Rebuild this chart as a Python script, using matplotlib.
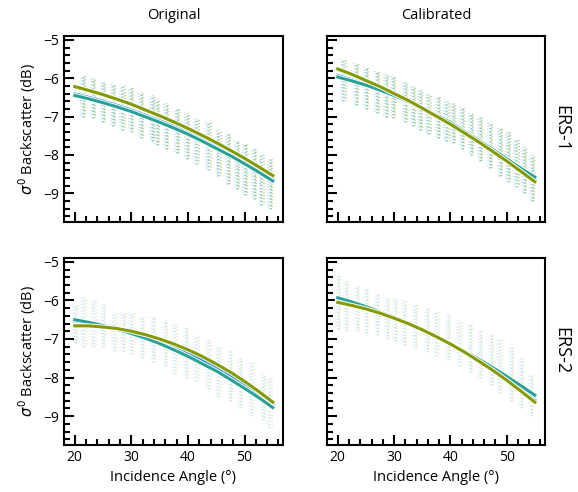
import matplotlib
matplotlib.use("Agg")
import matplotlib.pyplot as plt
import matplotlib.patheffects as pe
from matplotlib.ticker import MultipleLocator

plt.rcParams['font.family'] = ['Open Sans', 'DejaVu Sans']
plt.rcParams['mathtext.fontset'] = 'dejavusans'

BLUE = '#268bd2'
TEAL = '#2aa198'
OLIVE = '#859900'

# fitted curves, every 2.5 degrees
ang = [20, 22.5, 25, 27.5, 30, 32.5, 35, 37.5, 40, 42.5, 45, 47.5, 50, 52.5, 55]

tl_olive = [-6.22, -6.32, -6.43, -6.55, -6.68, -6.83, -6.98, -7.14, -7.31, -7.49, -7.68, -7.88, -8.09, -8.31, -8.54]
tl_blue = [-6.41, -6.50, -6.60, -6.71, -6.83, -6.97, -7.11, -7.26, -7.42, -7.60, -7.78, -7.97, -8.18, -8.39, -8.62]
tl_teal = [-6.45, -6.54, -6.64, -6.75, -6.87, -7.01, -7.15, -7.30, -7.46, -7.64, -7.83, -8.02, -8.23, -8.45, -8.68]

tr_olive = [-5.76, -5.90, -6.06, -6.22, -6.40, -6.58, -6.78, -6.99, -7.20, -7.43, -7.66, -7.91, -8.16, -8.43, -8.70]
tr_blue = [-5.93, -6.04, -6.16, -6.29, -6.44, -6.60, -6.77, -6.96, -7.16, -7.38, -7.62, -7.87, -8.12, -8.38, -8.64]
tr_teal = [-5.97, -6.07, -6.18, -6.31, -6.45, -6.61, -6.77, -6.96, -7.15, -7.39, -7.62, -7.86, -8.10, -8.35, -8.58]

bl_olive = [-6.66, -6.66, -6.69, -6.73, -6.80, -6.89, -7.00, -7.13, -7.28, -7.45, -7.65, -7.86, -8.10, -8.36, -8.64]
bl_blue = [-6.53, -6.57, -6.64, -6.71, -6.81, -6.92, -7.05, -7.20, -7.36, -7.54, -7.74, -7.95, -8.19, -8.43, -8.70]
bl_teal = [-6.50, -6.57, -6.65, -6.75, -6.86, -6.98, -7.12, -7.28, -7.45, -7.64, -7.83, -8.05, -8.28, -8.52, -8.78]

br_olive = [-6.05, -6.13, -6.22, -6.33, -6.46, -6.60, -6.76, -6.94, -7.13, -7.34, -7.57, -7.81, -8.07, -8.35, -8.64]
br_blue = [-5.96, -6.06, -6.17, -6.29, -6.43, -6.59, -6.75, -6.94, -7.13, -7.34, -7.56, -7.80, -8.05, -8.31, -8.59]
br_teal = [-5.93, -6.04, -6.16, -6.30, -6.44, -6.59, -6.76, -6.93, -7.12, -7.32, -7.52, -7.74, -7.97, -8.21, -8.46]

# point clouds per incidence-angle node: angle, upper, lower
tl_sa = [21.4, 23.2, 25.0, 26.8, 28.4, 29.9, 31.7, 33.6, 34.5, 36.1, 38.0,
         39.8, 41.5, 43.6, 45.4, 47.1, 48.6, 50.1, 51.6, 53.0, 54.5]
tl_hi = [-5.95, -6.0, -6.1, -6.15, -6.2, -6.25, -6.35, -6.45, -6.55, -6.65, -6.8,
         -6.9, -7.05, -7.15, -7.35, -7.45, -7.6, -7.7, -7.85, -8.0, -8.1]
tl_lo = [-7.0, -7.05, -7.15, -7.25, -7.35, -7.4, -7.55, -7.65, -7.75, -7.85, -7.95,
         -8.1, -8.25, -8.4, -8.55, -8.75, -8.9, -9.05, -9.15, -9.3, -9.4]

tr_sa = [21.0, 23.2, 25.0, 26.9, 28.5, 29.8, 31.9, 33.4, 34.6, 36.1, 37.8,
         39.3, 40.5, 42.0, 43.7, 45.2, 47.0, 48.8, 50.2, 51.7, 53.1, 54.5]
tr_hi = [-5.5, -5.6, -5.7, -5.8, -5.9, -5.95, -6.1, -6.2, -6.3, -6.4, -6.5,
         -6.6, -6.65, -6.75, -6.9, -7.0, -7.15, -7.3, -7.4, -7.6, -7.8, -8.0]
tr_lo = [-6.6, -6.7, -6.8, -6.9, -7.0, -7.05, -7.15, -7.25, -7.35, -7.45, -7.55,
         -7.65, -7.7, -7.85, -8.0, -8.15, -8.35, -8.55, -8.7, -8.85, -9.0, -9.2]

bl_sa = [20.0, 21.5, 23.3, 25.0, 27.0, 28.5, 30.0, 31.8, 33.8, 35.9, 37.6,
         39.7, 41.5, 43.6, 45.4, 47.4, 49.2, 51.2, 53.2, 54.4]
bl_hi = [-6.1, -5.9, -6.0, -6.1, -6.3, -6.3, -6.3, -6.4, -6.4, -6.5, -6.6,
         -6.7, -6.9, -7.0, -7.2, -7.3, -7.5, -7.6, -7.9, -8.0]
bl_lo = [-7.1, -7.2, -7.2, -7.2, -7.3, -7.3, -7.4, -7.5, -7.6, -7.7, -7.9,
         -8.0, -8.1, -8.3, -8.5, -8.6, -8.8, -9.0, -9.1, -9.3]

br_sa = [20.0, 21.5, 23.4, 25.0, 26.9, 28.7, 30.2, 31.8, 33.7, 35.8, 37.5,
         39.6, 41.6, 43.4, 45.2, 47.2, 48.7, 50.7, 52.5, 54.3]
br_hi = [-5.35, -5.5, -5.6, -5.7, -5.8, -5.9, -5.95, -6.0, -6.1, -6.2, -6.3,
         -6.35, -6.5, -6.6, -6.75, -6.9, -7.0, -7.2, -7.5, -7.9]
br_lo = [-6.75, -6.8, -6.8, -6.85, -6.9, -7.0, -7.05, -7.15, -7.25, -7.35, -7.45,
         -7.55, -7.7, -7.85, -8.0, -8.2, -8.4, -8.6, -8.8, -9.0]

panels = [
    (tl_sa, tl_hi, tl_lo, tl_blue, tl_teal, tl_olive, 0.5),
    (tr_sa, tr_hi, tr_lo, tr_blue, tr_teal, tr_olive, 0.5),
    (bl_sa, bl_hi, bl_lo, bl_blue, bl_teal, bl_olive, 0.22),
    (br_sa, br_hi, br_lo, br_blue, br_teal, br_olive, 0.22),
]

W, H = 578, 492
boxes = [(64, 36, 283, 222), (327, 36, 545, 222),
         (64, 258, 283, 445), (327, 258, 545, 445)]

fig = plt.figure(figsize=(W / 100, H / 100), dpi=100)
axes = []
for (x0, y0, x1, y1) in boxes:
    axes.append(fig.add_axes([x0 / W, 1 - y1 / H, (x1 - x0) / W, (y1 - y0) / H]))

for i, (ax, p) in enumerate(zip(axes, panels)):
    sa, hi, lo, b, t, o, a = p
    ax.vlines(sa, lo, hi, color=TEAL, alpha=a, lw=1.8,
              linestyles=[(0, (0.6, 0.7))], zorder=1)
    ax.vlines([s + 0.4 for s in sa], lo, hi, color=OLIVE, alpha=a * 0.8, lw=1.5,
              linestyles=[(0.4, (0.6, 0.9))], zorder=1)
    ax.vlines([s - 0.35 for s in sa], lo, hi, color=BLUE, alpha=a * 0.6, lw=1.2,
              linestyles=[(0.8, (0.6, 1.1))], zorder=1)
    fx = [pe.Stroke(linewidth=3.6, foreground='white'), pe.Normal()]
    ax.plot(ang, b, color=BLUE, lw=2.2, path_effects=fx, zorder=3)
    ax.plot(ang, t, color=TEAL, lw=2.2, path_effects=fx, zorder=3)
    ax.plot(ang, o, color=OLIVE, lw=2.2, path_effects=fx, zorder=3)

    ax.set_xlim(18.1, 56.8)
    ax.set_ylim(-9.75, -4.9)
    ax.set_xticks([20, 30, 40, 50])
    ax.set_yticks([-9, -8, -7, -6, -5])
    ax.xaxis.set_minor_locator(MultipleLocator(2))
    ax.yaxis.set_minor_locator(MultipleLocator(0.2))
    ax.tick_params(which='both', direction='in', top=False, right=False,
                   width=1.5, labelsize=10)
    ax.tick_params(which='major', length=7.5)
    ax.tick_params(which='minor', length=4)
    for s in ax.spines.values():
        s.set_linewidth(1.5)
    if i < 2:
        ax.set_xticklabels([])
    else:
        ax.set_xlabel('Incidence Angle (°)', fontsize=10.5)
    if i % 2 == 1:
        ax.set_yticklabels([])
    else:
        ax.set_ylabel(r'$\sigma^0$ Backscatter (dB)', fontsize=10.5)

axes[0].set_title('Original', fontsize=10.5, pad=12)
axes[1].set_title('Calibrated', fontsize=10.5, pad=12)
fig.text(561 / W, 1 - 129 / H, 'ERS-1', rotation=-90, fontsize=13, ha='center', va='center')
fig.text(561 / W, 1 - 351 / H, 'ERS-2', rotation=-90, fontsize=13, ha='center', va='center')

fig.savefig('out.png', dpi=100)
